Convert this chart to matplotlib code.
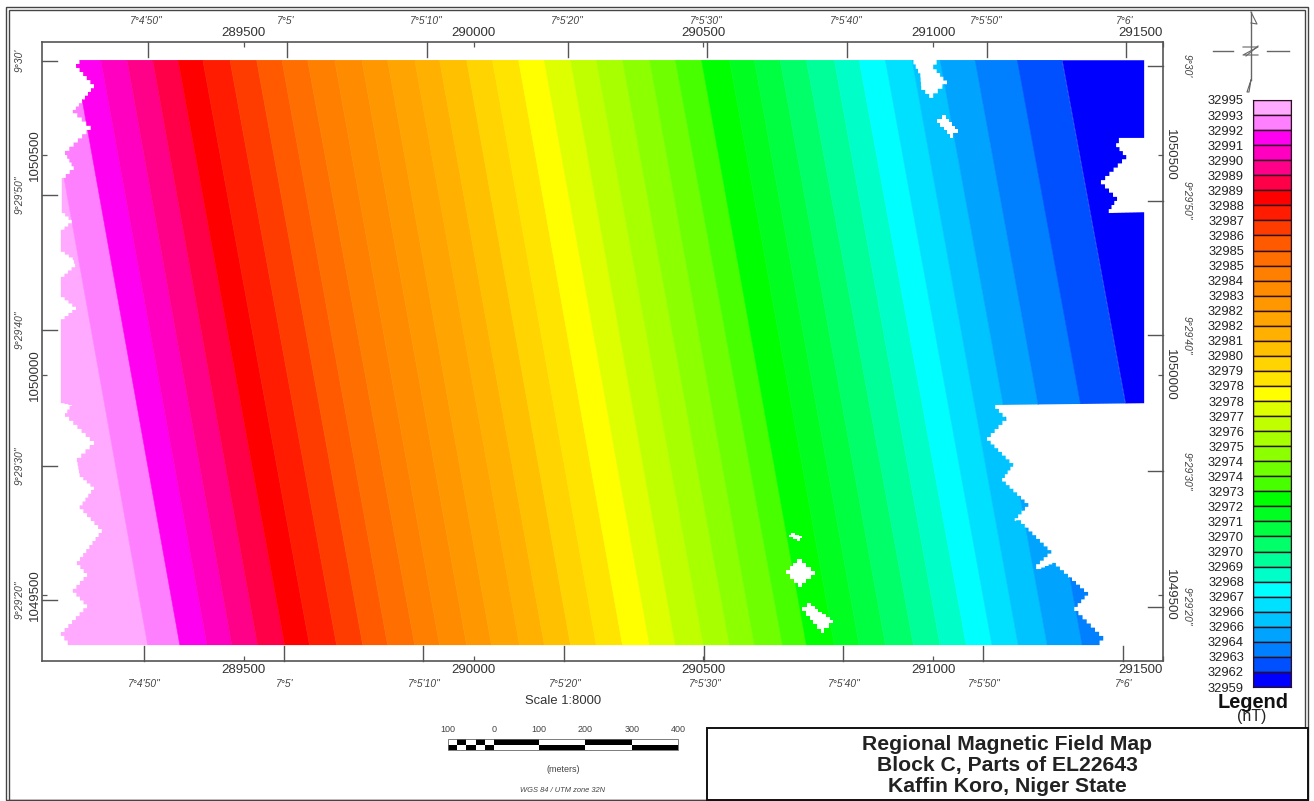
import numpy as np
import matplotlib
matplotlib.use('Agg')
import matplotlib.pyplot as plt
from matplotlib.patches import Polygon, Rectangle

plt.rcParams['font.family'] = ['Liberation Sans', 'DejaVu Sans']

# legend classes, nT, top to bottom
legend_labels = [32995, 32993, 32992, 32991, 32990, 32989, 32989, 32988, 32987, 32986,
                 32985, 32985, 32984, 32983, 32982, 32982, 32981, 32980, 32979, 32978,
                 32978, 32977, 32976, 32975, 32974, 32974, 32973, 32972, 32971, 32970,
                 32970, 32969, 32968, 32967, 32966, 32966, 32964, 32963, 32962, 32959]
band_colors = ['#ffaaff', '#ff80ff', '#ff00f0', '#ff00c0', '#ff0088', '#ff0048', '#ff0000',
               '#ff1c00', '#ff3c00', '#ff5a00', '#ff6e00', '#ff8000', '#ff8c00', '#ff9800',
               '#ffa400', '#ffb000', '#ffc000', '#ffd400', '#ffe400', '#ffff00', '#ddff00',
               '#c0ff00', '#a8ff00', '#8cff00', '#70ff00', '#48ff00', '#00ff00', '#00ff20',
               '#00ff40', '#00ff68', '#00ff98', '#00ffc8', '#00ffff', '#00e0ff', '#00c4ff',
               '#00a4ff', '#0080ff', '#0050ff', '#0000ff']

# band boundaries, easting along the north and south edge of the grid
edge_north = [289063, 289133, 289189, 289246, 289302, 289357, 289411, 289470, 289528, 289583,
              289639, 289698, 289757, 289813, 289872, 289926, 289985, 290041, 290098, 290154,
              290211, 290267, 290324, 290383, 290439, 290496, 290557, 290611, 290667, 290724,
              290785, 290839, 290896, 290954, 291015, 291091, 291183, 291280]
edge_south = [289291, 289361, 289420, 289474, 289530, 289589, 289643, 289702, 289759, 289813,
              289872, 289926, 289985, 290039, 290100, 290154, 290211, 290267, 290324, 290383,
              290439, 290500, 290557, 290611, 290672, 290724, 290785, 290839, 290896, 290957,
              291015, 291072, 291128, 291185, 291248, 291324, 291417, 291515]
north_y = 1050716
south_y = 1049386

# outline of the surveyed block
outline_e = [289150, 289135, 289174, 289148, 289128, 289167, 289111, 289130, 289104, 289104,
             289126, 289102, 289102, 289128, 289133, 289102, 289102, 289135, 289102, 289102,
             289126, 289111, 289174, 289137, 289143, 289174, 289143, 289191, 289137, 289159,
             289128, 289159, 289102, 289117, 291354, 291370, 291307, 291337, 291267, 291235,
             291224, 291257, 291191, 291170, 291207, 291150, 291174, 291117, 291159, 291135,
             291459, 291459, 291376, 291400, 291365, 291420, 291398, 291404, 291459, 291459,
             291015, 291000, 291030, 291000, 290974, 290972, 290957]
outline_n = [1050716, 1050698, 1050652, 1050618, 1050595, 1050557, 1050500, 1050466, 1050439, 1050368,
             1050345, 1050323, 1050280, 1050261, 1050245, 1050216, 1050177, 1050148, 1050120, 1049936,
             1049930, 1049905, 1049841, 1049802, 1049768, 1049739, 1049695, 1049641, 1049568, 1049541,
             1049505, 1049470, 1049407, 1049386, 1049386, 1049407, 1049473, 1049507, 1049573, 1049559,
             1049570, 1049602, 1049670, 1049666, 1049709, 1049766, 1049800, 1049859, 1049905, 1049932,
             1049936, 1050370, 1050368, 1050405, 1050443, 1050500, 1050527, 1050539, 1050539, 1050716,
             1050716, 1050695, 1050661, 1050630, 1050657, 1050686, 1050716]

# gaps inside the grid
hole_e = [[291009, 291020, 291054, 291043],
          [290680, 290704, 290743, 290715],
          [290715, 290726, 290783, 290763],
          [290687, 290691, 290715, 290711]]
hole_n = [[1050582, 1050591, 1050550, 1050539],
          [1049557, 1049582, 1049545, 1049518],
          [1049473, 1049482, 1049436, 1049414],
          [1049636, 1049641, 1049630, 1049623]]

easting_ticks = [289500, 290000, 290500, 291000, 291500]
northing_ticks = [1049500, 1050000, 1050500]

lon_labels = ['7°4\'50"', '7°5\'', '7°5\'10"', '7°5\'20"', '7°5\'30"', '7°5\'40"', '7°5\'50"', '7°6\'']
lat_labels = ['9°30\'', '9°29\'50"', '9°29\'40"', '9°29\'30"', '9°29\'20"']
# graticule positions, they are slightly rotated against the grid
lon_px_top = [147.7, 287, 427, 568, 707, 847, 987, 1126]
lon_px_bot = [143.5, 284, 423, 564, 704, 843, 983, 1123]
lat_px_left = [60.6, 195, 330, 466, 600]
lat_px_right = [65.7, 200.7, 335, 471, 606.7]

scale_labels = ['100', '0', '100', '200', '300', '400']
scale_px = [448, 494, 539, 585, 632, 678]


def stairs(xs, ys, sx=8.7, sy=9.1):
    # grid cells show up as steps along the diagonal parts
    pts = []
    for i in range(len(xs) - 1):
        dx = xs[i + 1] - xs[i]
        dy = ys[i + 1] - ys[i]
        n = max(1, int(round(max(abs(dx) / sx, abs(dy) / sy))))
        for j in range(n):
            pts.append((xs[i] + dx * j / n, ys[i] + dy * j / n))
            pts.append((xs[i] + dx * (j + 1) / n, ys[i] + dy * j / n))
    return pts


W, H = 1314, 801
fig = plt.figure(figsize=(W / 100, H / 100), dpi=100)


def px_axes(l, t, r, b):
    return fig.add_axes([l / W, 1 - b / H, (r - l) / W, (b - t) / H])


# overlay in pixels for frames, graticule and the scale bar
deco = fig.add_axes([0, 0, 1, 1], zorder=3)
deco.set_xlim(0, W)
deco.set_ylim(H, 0)
deco.axis('off')
deco.patch.set_alpha(0)

ax = px_axes(42, 42, 1163, 661)
ax.set_xlim(289061, 291500)
ax.set_ylim(1049350, 1050757)

clip = Polygon(stairs(outline_e + outline_e[:1], outline_n + outline_n[:1]), closed=True,
               fc='none', ec='none', transform=ax.transData)
ax.add_patch(clip)
x_west, x_east = 288900, 291700
tops = [x_west] + edge_north + [x_east]
bots = [x_west] + edge_south + [x_east]
for i, c in enumerate(band_colors):
    xs = [tops[i], tops[i + 1], bots[i + 1], bots[i]]
    ys = [north_y, north_y, south_y, south_y]
    band = ax.fill(xs, ys, color=c, lw=0.4)[0]
    band.set_clip_path(clip)
for he, hn in zip(hole_e, hole_n):
    ax.add_patch(Polygon(stairs(he + he[:1], hn + hn[:1]), closed=True, fc='white', ec='none', zorder=4))

ax.set_xticks(easting_ticks)
ax.set_yticks(northing_ticks)
ax.set_xticklabels([str(v) for v in easting_ticks])
ax.set_yticklabels([str(v) for v in northing_ticks])
ax.tick_params(axis='both', direction='in', length=3.5, width=0.9, color='#555555',
               top=True, right=True, labeltop=True, labelright=True,
               labelsize=9.5, labelcolor='#333333')
ax.tick_params(axis='x', pad=2)
ax.tick_params(axis='y', pad=1)
for t in ax.yaxis.get_major_ticks():
    t.label1.set_rotation(90)
    t.label1.set_va('center')
    t.label2.set_rotation(270)
    t.label2.set_va('center')
last = ax.xaxis.get_major_ticks()[-1]
last.label1.set_ha('right')
last.label2.set_ha('right')
for side, s in ax.spines.items():
    s.set_color('#555555')
    s.set_linewidth(1.2)

# graticule ticks and labels
geo = dict(fontsize=7.4, style='italic', color='#444444', ha='center', va='center')
for lab, xt, xb in zip(lon_labels, lon_px_top, lon_px_bot):
    deco.plot([xt, xt], [42, 57], color='#555555', lw=1)
    deco.plot([xb, xb], [661, 646], color='#555555', lw=1)
    deco.text(xt - 1, 21, lab, **geo)
    deco.text(xb + 1, 684, lab, **geo)
for lab, yl, yr in zip(lat_labels, lat_px_left, lat_px_right):
    deco.plot([42, 57], [yl, yl], color='#555555', lw=1)
    deco.plot([1163, 1148], [yr, yr], color='#555555', lw=1)
    deco.text(20, yl, lab, rotation=90, **geo)
    deco.text(1187, yr, lab, rotation=270, **geo)

# outer frame
for l, t, r, b, col in [(6, 7, 1308, 800, '#444444'), (9, 10, 1305, 800, '#444444')]:
    deco.add_patch(Rectangle((l, t), r - l, b - t, fc='none', ec=col, lw=1))

# legend
leg = px_axes(1253, 100, 1291, 687)
leg.barh(np.arange(len(band_colors)) + 0.5, 1, height=1, color=band_colors, edgecolor='#2a1020', linewidth=1)
leg.set_xlim(0, 1)
leg.set_ylim(len(band_colors), 0)
leg.set_xticks([])
leg.set_yticks(np.arange(len(legend_labels)))
leg.set_yticklabels([str(v) for v in legend_labels])
leg.tick_params(axis='y', length=0, labelsize=9.3, labelcolor='#222222', pad=6.5)
for s in leg.spines.values():
    s.set_color('#2a1020')
deco.text(1253, 702, 'Legend', fontsize=14.4, fontweight='bold', color='#111111', ha='center', va='center')
deco.text(1252, 717, '(nT)', fontsize=11.4, color='#222222', ha='center', va='center')

# north arrow
deco.plot([1251, 1251], [12, 80], color='#666666', lw=1)
deco.plot([1251, 1257, 1251], [12, 24, 23], color='#666666', lw=0.8)
deco.plot([1251, 1247, 1249, 1251], [80, 92, 92, 80], color='#666666', lw=0.8)
deco.plot([1213, 1233], [50.7, 50.7], color='#666666', lw=1)
deco.plot([1267, 1289], [50.7, 50.7], color='#666666', lw=1)
deco.plot([1243, 1258, 1243, 1258], [47, 47, 55, 55], color='#666666', lw=0.8)
deco.plot([1246, 1258], [56, 46], color='#666666', lw=0.8)

# scale bar
deco.text(563, 700.5, 'Scale 1:8000', fontsize=9.4, color='#333333', ha='center', va='center')
for lab, x in zip(scale_labels, scale_px):
    deco.text(x, 730, lab, fontsize=6.5, color='#444444', ha='center', va='center')
edges = [448 + (494 - 448) * i / 5 for i in range(6)] + scale_px[2:]
for i in range(len(edges) - 1):
    up, low = ('white', 'black') if i % 2 == 0 else ('black', 'white')
    deco.add_patch(Rectangle((edges[i], 739), edges[i + 1] - edges[i], 5.5, fc=up, ec='none'))
    deco.add_patch(Rectangle((edges[i], 744.5), edges[i + 1] - edges[i], 5.5, fc=low, ec='none'))
deco.add_patch(Rectangle((448, 739), 230, 11, fc='none', ec='#666666', lw=0.6))
deco.text(563, 770, '(meters)', fontsize=6.5, color='#444444', ha='center', va='center')
deco.text(563, 791, 'WGS 84 / UTM zone 32N', fontsize=5.4, style='italic', color='#444444', ha='center', va='center')

# title block
deco.add_patch(Rectangle((707, 728), 601, 72, fc='white', ec='#111111', lw=1.4))
for y, line in zip([745, 766, 787], ['Regional Magnetic Field Map', 'Block C, Parts of EL22643', 'Kaffin Koro, Niger State']):
    deco.text(1007, y, line, fontsize=15.2, fontweight='bold', color='#222222', ha='center', va='center')

fig.savefig('out.png', dpi=100)
